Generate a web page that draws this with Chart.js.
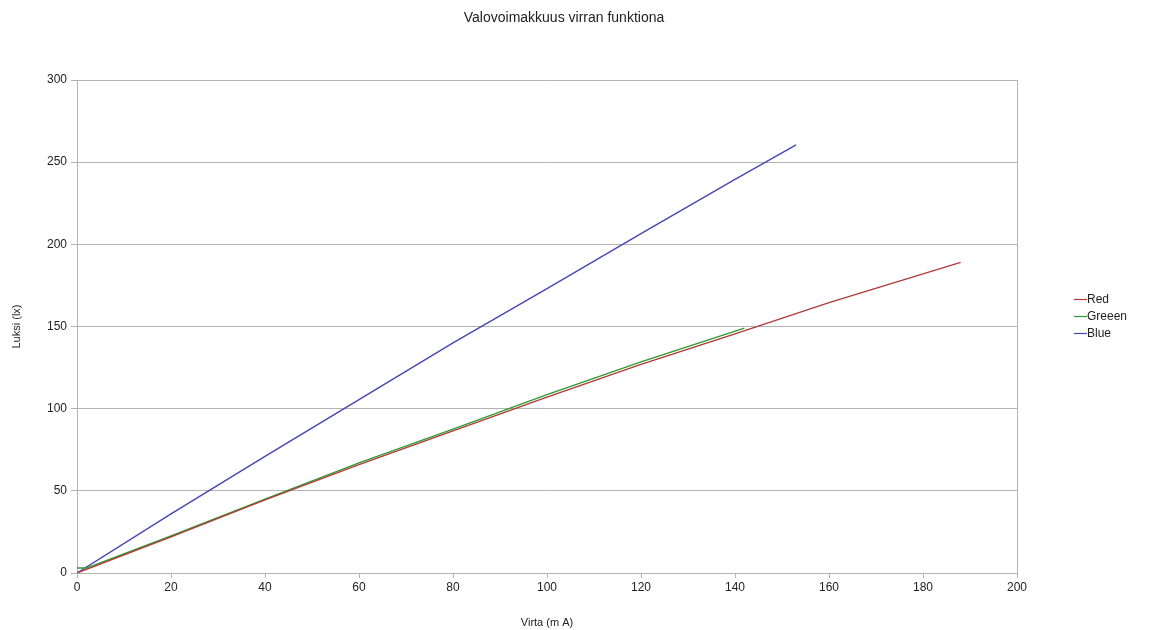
<!DOCTYPE html>
<html>
<head>
<meta charset="utf-8">
<script src="https://cdn.jsdelivr.net/npm/chart.js@4/dist/chart.umd.min.js"></script>
<style>
  html, body { margin: 0; padding: 0; background: #fff; }
  #wrap { width: 1149px; height: 630px; }
</style>
</head>
<body>
<div id="wrap"><canvas id="chart"></canvas></div>
<script>
// Values (x = current in mA, y = lux)
const chartTitle = 'Valovoimakkuus virran funktiona';
const seriesNames = ['Red', 'Greeen', 'Blue'];
const redX = [0, 20, 40, 60, 80, 100, 120, 140, 160, 188];
const redY = [0, 22, 44.5, 66, 86.5, 107, 127, 145.5, 164.5, 189];
const greenX = [0, 2, 20, 40, 60, 80, 100, 120, 142];
const greenY = [3, 3, 22.5, 45, 67, 87.5, 108.5, 128.5, 149];
const blueX = [0, 20, 40, 60, 80, 100, 120, 140, 153];
const blueY = [0, 36, 71, 105.5, 140, 173, 206.5, 239.5, 260.5];

const colors = ['#b03a3a', '#2f9a2f', '#4646b4'];
const fontFamily = '"Liberation Sans", Arial, sans-serif';

function toPoints(xs, ys) {
  return xs.map((x, i) => ({ x: x, y: ys[i] }));
}

// Title centred on the page, plus the thin right edge of the plot frame
const framePlugin = {
  id: 'frame',
  afterDatasetsDraw(chart) {
    const { ctx, chartArea: a } = chart;
    ctx.save();
    ctx.strokeStyle = '#b3b3b3';
    ctx.lineWidth = 1;
    ctx.beginPath();
    ctx.moveTo(Math.round(a.right) + 0.5, a.top);
    ctx.lineTo(Math.round(a.right) + 0.5, a.bottom);
    ctx.stroke();

    ctx.fillStyle = '#222';
    ctx.font = '14px ' + fontFamily;
    ctx.textAlign = 'center';
    ctx.textBaseline = 'middle';
    ctx.fillText(chartTitle, 564, 18);
    ctx.restore();
  }
};

// Legend on the right, drawn from the dataset labels
const sideLegend = {
  id: 'sideLegend',
  afterDraw(chart) {
    const ctx = chart.ctx;
    const x0 = 1074;
    const y0 = 299;
    ctx.save();
    ctx.font = '12px ' + fontFamily;
    ctx.textBaseline = 'middle';
    chart.data.datasets.forEach((ds, i) => {
      const y = y0 + i * 17;
      ctx.strokeStyle = ds.borderColor;
      ctx.lineWidth = 1.2;
      ctx.beginPath();
      ctx.moveTo(x0, y + 0.5);
      ctx.lineTo(x0 + 13, y + 0.5);
      ctx.stroke();
      ctx.fillStyle = '#222';
      ctx.fillText(ds.label, x0 + 13, y + 1);
    });
    ctx.restore();
  }
};

const datasets = [
  { label: seriesNames[0], data: toPoints(redX, redY) },
  { label: seriesNames[1], data: toPoints(greenX, greenY) },
  { label: seriesNames[2], data: toPoints(blueX, blueY) }
].map((ds, i) => Object.assign(ds, {
  borderColor: colors[i],
  backgroundColor: colors[i],
  borderWidth: 1.4,
  showLine: true,
  pointRadius: 0,
  tension: 0
}));

new Chart(document.getElementById('chart'), {
  type: 'scatter',
  data: { datasets: datasets },
  plugins: [framePlugin, sideLegend],
  options: {
    responsive: true,
    maintainAspectRatio: false,
    animation: false,
    layout: { padding: { left: 10, right: 132, top: 80, bottom: 0 } },
    plugins: {
      legend: { display: false },
      tooltip: { enabled: false },
      title: { display: false }
    },
    scales: {
      x: {
        type: 'linear',
        min: 0,
        max: 200,
        ticks: {
          stepSize: 20,
          color: '#222',
          font: { family: fontFamily, size: 12 },
          padding: 2
        },
        grid: { drawOnChartArea: false, color: '#b3b3b3', tickLength: 5 },
        border: { color: '#b3b3b3' },
        title: {
          display: true,
          text: 'Virta (m A)',
          color: '#222',
          font: { family: fontFamily, size: 11 },
          padding: { top: 13, bottom: 0 }
        },
        afterFit(scale) { scale.height = 57; }
      },
      y: {
        type: 'linear',
        min: 0,
        max: 300,
        ticks: {
          stepSize: 50,
          color: '#222',
          font: { family: fontFamily, size: 12 },
          padding: 4
        },
        grid: { color: '#b3b3b3', tickLength: 6 },
        border: { color: '#b3b3b3' },
        title: {
          display: true,
          text: 'Luksi (lx)',
          color: '#222',
          font: { family: fontFamily, size: 11 },
          padding: { top: 0, bottom: 12 }
        },
        afterFit(scale) { scale.width = 67; }
      }
    }
  }
});
</script>
</body>
</html>
